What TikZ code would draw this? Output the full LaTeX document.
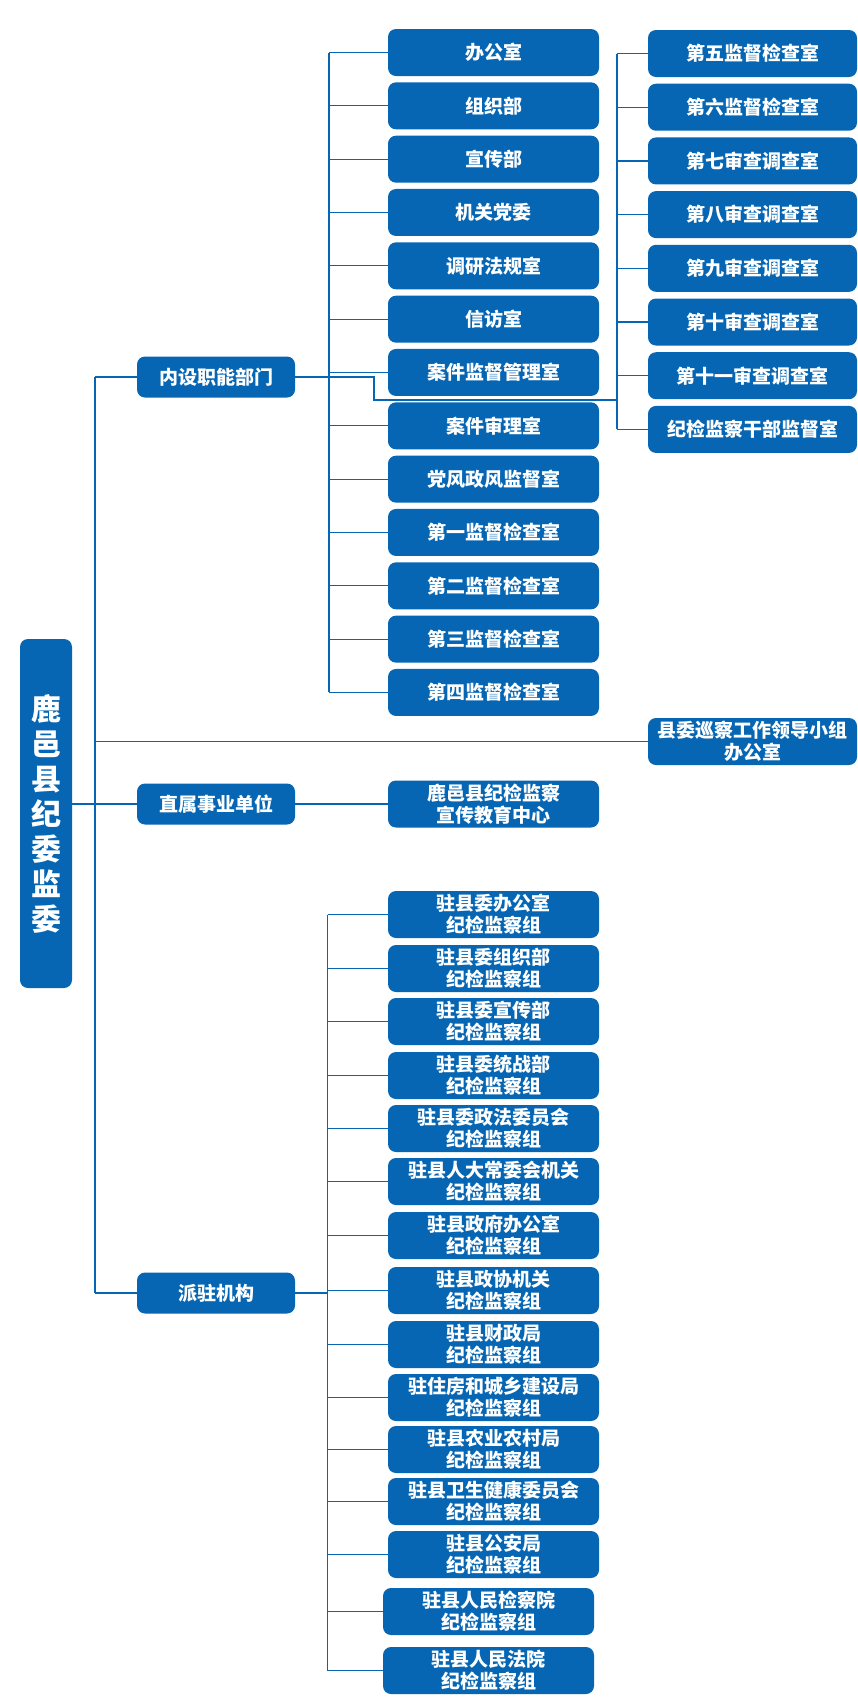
\documentclass[tikz,border=0pt]{standalone}
\usepackage{fontspec}
\setmainfont{Noto Sans CJK SC}
\definecolor{jwblue}{RGB}{6,102,179}
\begin{document}
\begin{tikzpicture}[x=1pt,y=-1pt,
    box/.style={fill=jwblue, rounded corners=8pt, text=white, align=center,
        inner sep=0pt, minimum width=211pt, minimum height=47pt,
        font=\bfseries\fontsize{19}{22}\selectfont},
    headbox/.style={box, minimum width=158pt, minimum height=41pt},
    link/.style={draw=jwblue, line width=1.2pt}]
    \useasboundingbox (0,0) rectangle (858,1701);
    \node [box, minimum width=52pt, minimum height=349pt,
        font=\bfseries\fontsize{30}{35}\selectfont] (root) at (46,813.5)
        {鹿\\邑\\县\\纪\\委\\监\\委};
    \node [headbox] (nei) at (216,377) {内设职能部门};
    \node [headbox] (zhi) at (216,804) {直属事业单位};
    \node [headbox] (pai) at (216,1293) {派驻机构};
    \coordinate (trunk) at (95,377);
    \coordinate (nbus) at (329,377);
    \coordinate (rbus) at (617,400);
    \coordinate (bend) at (374,400);
    \coordinate (pbus) at (327.5,1293);
    \foreach \name [count=\i from 0] in {办公室,组织部,宣传部,机关党委,调研法规室,
        信访室,案件监督管理室,案件审理室,党风政风监督室,第一监督检查室,
        第二监督检查室,第三监督检查室,第四监督检查室}
        \node [box] (n\i) at (493.5,{52.5+53.33*\i}) {\name};
    \foreach \name [count=\i from 0] in {第五监督检查室,第六监督检查室,第七审查调查室,
        第八审查调查室,第九审查调查室,第十审查调查室,第十一审查调查室,纪检监察干部监督室}
        \node [box, minimum width=209pt] (r\i) at (752.5,{53.5+53.7*\i}) {\name};
    \node [box, minimum width=209pt] (xc) at (752.5,741.5) {县委巡察工作领导小组\\办公室};
    \node [box] (zx) at (493.5,804) {鹿邑县纪检监察\\宣传教育中心};
    \foreach \name/\xx/\yy [count=\i] in {驻县委办公室/493.5/914.5,驻县委组织部/493.5/968.5,
        驻县委宣传部/493.5/1021.5,驻县委统战部/493.5/1075.5,驻县委政法委员会/493.5/1128.5,
        驻县人大常委会机关/493.5/1181.5,驻县政府办公室/493.5/1235.5,驻县政协机关/493.5/1290.5,
        驻县财政局/493.5/1344.5,驻住房和城乡建设局/493.5/1397.5,驻县农业农村局/493.5/1449.5,
        驻县卫生健康委员会/493.5/1501.5,驻县公安局/493.5/1554.5,驻县人民检察院/488.5/1611.5,
        驻县人民法院/488.5/1670.5}
        \node [box] (p\i) at (\xx,\yy) {\name\\纪检监察组};
    \draw [link] (trunk |- nei.west) -- (trunk |- pai.west);
    \draw [link] (trunk |- nei.west) -- (nei.west);
    \draw [link] (trunk |- pai.west) -- (pai.west);
    \draw [link] (root.east |- zhi.west) -- (zhi.west);
    \draw [link] (trunk |- xc.west) -- (xc.west);
    \draw [link] (zhi.east) -- (zx.west);
    \draw [link] (nei.east) -- (nbus);
    \draw [link] (nbus |- n0.west) -- (nbus |- n12.west);
    \foreach \i in {0,...,12}
        \draw [link] (nbus |- n\i.west) -- (n\i.west);
    \draw [link] (nei.east) -| (bend) -- (rbus);
    \draw [link] (rbus |- r0.west) -- (rbus |- r7.west);
    \foreach \i in {0,...,7}
        \draw [link] (rbus |- r\i.west) -- (r\i.west);
    \draw [link] (pai.east) -- (pbus);
    \draw [link] (pbus |- p1.west) -- (pbus |- p15.west);
    \foreach \i in {1,...,15}
        \draw [link] (pbus |- p\i.west) -- (p\i.west);
\end{tikzpicture}
\end{document}
